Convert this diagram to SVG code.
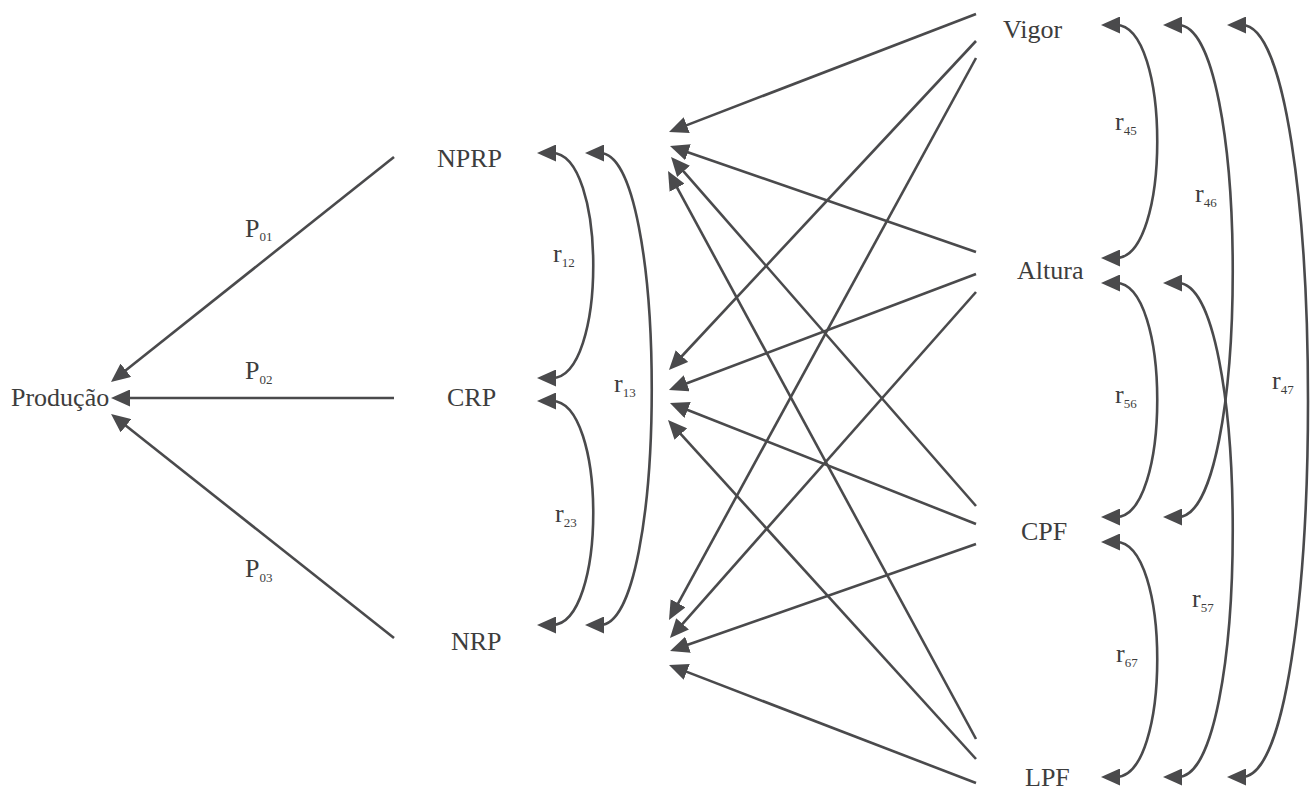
<svg xmlns="http://www.w3.org/2000/svg" width="1313" height="791" viewBox="0 0 1313 791">
<style>
  .lbl { font-family: "Liberation Serif", "Times New Roman", serif; font-size: 26px; fill: #3d3d3d; }
  .sub { font-size: 13px; }
  .ln { fill: none; stroke: #4a4a4c; stroke-width: 2.6; }
</style>
<defs>
  <marker id="ah" viewBox="0 0 19 17" refX="4" refY="8.5" markerWidth="19" markerHeight="17" markerUnits="userSpaceOnUse" orient="auto-start-reverse">
    <path d="M0,0 L19,8.5 L0,17 z" fill="#4a4a4c"/>
  </marker>
</defs>
<rect width="1313" height="791" fill="#ffffff"/>

<g id="connectors">
  <!-- to Produção -->
  <path class="ln" d="M394,157 L122.7,372.7" marker-end="url(#ah)"/>
  <path class="ln" d="M394,398 L126,398" marker-end="url(#ah)"/>
  <path class="ln" d="M394,638 L122.8,423.3" marker-end="url(#ah)"/>
  <!-- from Vigor -->
  <path class="ln" d="M976,14 L683,126.6" marker-end="url(#ah)"/>
  <path class="ln" d="M976,41 L679.2,359" marker-end="url(#ah)"/>
  <path class="ln" d="M976,58 L676.2,606.8" marker-end="url(#ah)"/>
  <!-- from Altura -->
  <path class="ln" d="M976,252 L684.2,150.9" marker-end="url(#ah)"/>
  <path class="ln" d="M976,274 L683,384.7" marker-end="url(#ah)"/>
  <path class="ln" d="M976,292 L679.9,626.8" marker-end="url(#ah)"/>
  <!-- from CPF -->
  <path class="ln" d="M976,506 L680.9,168.3" marker-end="url(#ah)"/>
  <path class="ln" d="M976,524 L683.9,408.5" marker-end="url(#ah)"/>
  <path class="ln" d="M976,544 L684.2,646" marker-end="url(#ah)"/>
  <!-- from LPF -->
  <path class="ln" d="M976,739 L675.2,184.2" marker-end="url(#ah)"/>
  <path class="ln" d="M976,759 L678.1,431.1" marker-end="url(#ah)"/>
  <path class="ln" d="M976,783 L683,670.4" marker-end="url(#ah)"/>
  <!-- left correlations -->
  <path class="ln" d="M552,153 C607,153 607,378 552,378" marker-start="url(#ah)" marker-end="url(#ah)"/>
  <path class="ln" d="M552,401 C607,401 607,625 552,625" marker-start="url(#ah)" marker-end="url(#ah)"/>
  <path class="ln" d="M600,153 C669,153 669,625 600,625" marker-start="url(#ah)" marker-end="url(#ah)"/>
  <!-- right correlations -->
  <path class="ln" d="M1116,25 C1171,25 1171,258 1116,258" marker-start="url(#ah)" marker-end="url(#ah)"/>
  <path class="ln" d="M1116,283 C1171,283 1171,517 1116,517" marker-start="url(#ah)" marker-end="url(#ah)"/>
  <path class="ln" d="M1116,542 C1171,542 1171,777 1116,777" marker-start="url(#ah)" marker-end="url(#ah)"/>
  <path class="ln" d="M1178,25 C1251,25 1251,517 1178,517" marker-start="url(#ah)" marker-end="url(#ah)"/>
  <path class="ln" d="M1178,283 C1251,283 1251,777 1178,777" marker-start="url(#ah)" marker-end="url(#ah)"/>
  <path class="ln" d="M1242,25 C1330,25 1330,777 1242,777" marker-start="url(#ah)" marker-end="url(#ah)"/>
</g>

<g id="labels">
  <text class="lbl" x="245" y="237">P<tspan class="sub" dy="4">01</tspan></text>
  <text class="lbl" x="245" y="379">P<tspan class="sub" dy="5">02</tspan></text>
  <text class="lbl" x="245" y="577">P<tspan class="sub" dy="5">03</tspan></text>
  <text class="lbl" x="553" y="262">r<tspan class="sub" dy="5">12</tspan></text>
  <text class="lbl" x="614" y="392">r<tspan class="sub" dy="5">13</tspan></text>
  <text class="lbl" x="555" y="522">r<tspan class="sub" dy="5">23</tspan></text>
  <text class="lbl" x="1115" y="130">r<tspan class="sub" dy="5">45</tspan></text>
  <text class="lbl" x="1195" y="202">r<tspan class="sub" dy="5">46</tspan></text>
  <text class="lbl" x="1272" y="389">r<tspan class="sub" dy="5">47</tspan></text>
  <text class="lbl" x="1115" y="403">r<tspan class="sub" dy="5">56</tspan></text>
  <text class="lbl" x="1192" y="607">r<tspan class="sub" dy="5">57</tspan></text>
  <text class="lbl" x="1116" y="662">r<tspan class="sub" dy="5">67</tspan></text>
</g>

<g id="node-producao"><text class="lbl" x="11" y="406">Produção</text></g>
<g id="node-nprp"><text class="lbl" x="437" y="167">NPRP</text></g>
<g id="node-crp"><text class="lbl" x="447" y="406">CRP</text></g>
<g id="node-nrp"><text class="lbl" x="451" y="650">NRP</text></g>
<g id="node-vigor"><text class="lbl" x="1003" y="38">Vigor</text></g>
<g id="node-altura"><text class="lbl" x="1017" y="279">Altura</text></g>
<g id="node-cpf"><text class="lbl" x="1021" y="540">CPF</text></g>
<g id="node-lpf"><text class="lbl" x="1025" y="786">LPF</text></g>
</svg>
